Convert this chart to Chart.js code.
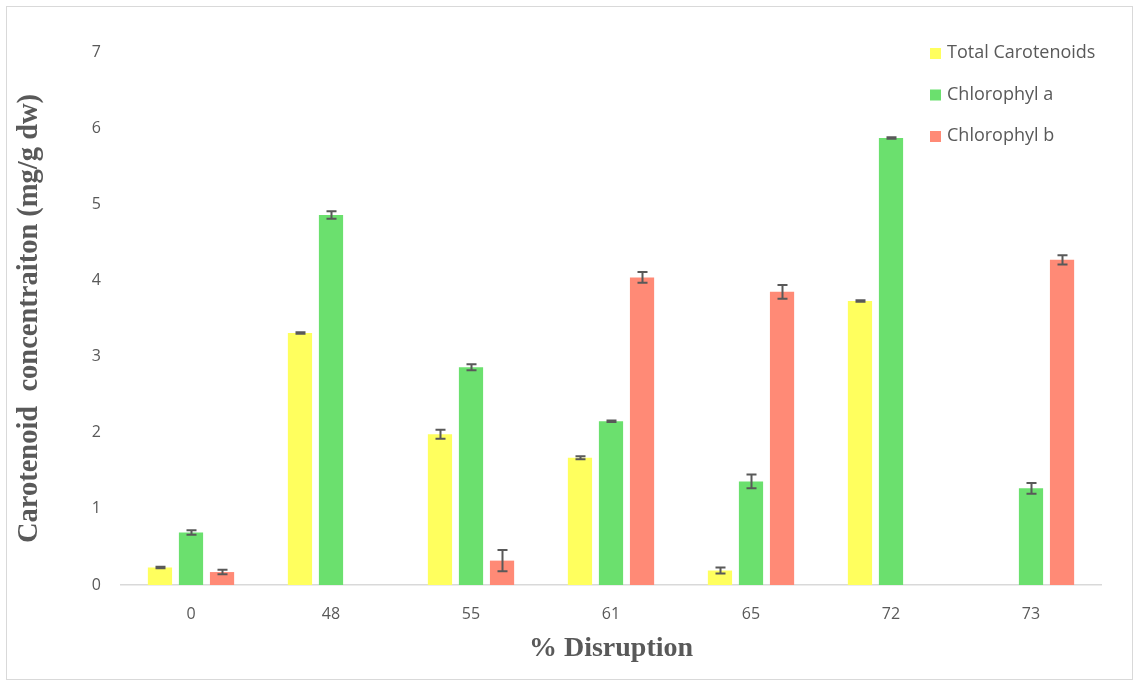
<!DOCTYPE html>
<html>
<head>
<meta charset="utf-8">
<script src="https://cdn.jsdelivr.net/npm/chart.js@4/dist/chart.umd.min.js"></script>
<style>
  html, body { margin: 0; padding: 0; background: #ffffff; }
  #wrap { position: relative; width: 1137px; height: 683px; }
</style>
</head>
<body>
<div id="wrap"><canvas id="chart" width="1137" height="683"></canvas></div>
<script>
// Disruption levels (%)
const categories = ['0', '48', '55', '61', '65', '72', '73'];

// Pigment content (mg/g dw)
const totalCarotenoids = [0.23, 3.31, 1.98, 1.67, 0.19, 3.73, null];
const chlorophyllA     = [0.69, 4.86, 2.86, 2.15, 1.36, 5.87, 1.27];
const chlorophyllB     = [0.17, null, 0.32, 4.04, 3.85, null, 4.27];

// Standard deviations
const totalCarotenoidsErr = [0.01, 0.01, 0.06, 0.02, 0.04, 0.01, null];
const chlorophyllAErr     = [0.03, 0.05, 0.04, 0.01, 0.09, 0.01, 0.07];
const chlorophyllBErr     = [0.03, null, 0.14, 0.07, 0.09, null, 0.06];

const yTicks = [0, 1, 2, 3, 4, 5, 6, 7];

const TEXT_GREY = '#595959';
const SANS = '"Open Sans", "Liberation Sans", sans-serif';
const SERIF = '"Liberation Serif", "Times New Roman", serif';

// Vertical error bars with caps, one per bar
const errorBars = {
  id: 'errorBars',
  afterDatasetsDraw(chart) {
    const ctx = chart.ctx;
    const y = chart.scales.y;
    ctx.save();
    ctx.strokeStyle = TEXT_GREY;
    ctx.lineWidth = 2;
    chart.data.datasets.forEach((ds, i) => {
      const meta = chart.getDatasetMeta(i);
      meta.data.forEach((bar, j) => {
        const v = ds.data[j];
        const e = ds.errors[j];
        if (v == null || e == null) return;
        const top = y.getPixelForValue(v + e);
        const bot = y.getPixelForValue(v - e);
        const x = Math.round(bar.x) + 0.5;
        const half = 5;
        ctx.beginPath();
        ctx.moveTo(x, top); ctx.lineTo(x, bot);
        ctx.moveTo(x - half, top); ctx.lineTo(x + half, top);
        ctx.moveTo(x - half, bot); ctx.lineTo(x + half, bot);
        ctx.stroke();
      });
    });
    ctx.restore();
  }
};

// Legend stacked in the upper right of the plot
const cornerLegend = {
  id: 'cornerLegend',
  afterDraw(chart) {
    const ctx = chart.ctx;
    ctx.save();
    ctx.font = '18px ' + SANS;
    ctx.textBaseline = 'middle';
    ctx.textAlign = 'left';
    chart.data.datasets.forEach((ds, i) => {
      const cy = 53 + i * 41.5;
      ctx.fillStyle = ds.backgroundColor;
      ctx.fillRect(930, cy - 5, 11, 11);
      ctx.fillStyle = TEXT_GREY;
      ctx.fillText(ds.label, 947, cy);
    });
    ctx.restore();
  }
};

// Thin frame around the whole figure
const frame = {
  id: 'frame',
  beforeDraw(chart) {
    const ctx = chart.ctx;
    ctx.save();
    ctx.fillStyle = '#ffffff';
    ctx.fillRect(0, 0, chart.width, chart.height);
    ctx.strokeStyle = '#d9d9d9';
    ctx.lineWidth = 1;
    ctx.strokeRect(6.5, 6.5, 1126, 673);
    ctx.restore();
  }
};

new Chart(document.getElementById('chart'), {
  type: 'bar',
  data: {
    labels: categories,
    datasets: [
      { label: 'Total Carotenoids', data: totalCarotenoids, errors: totalCarotenoidsErr, backgroundColor: '#ffff5e' },
      { label: 'Chlorophyl a',      data: chlorophyllA,     errors: chlorophyllAErr,     backgroundColor: '#6be06e' },
      { label: 'Chlorophyl b',      data: chlorophyllB,     errors: chlorophyllBErr,     backgroundColor: '#ff8a76' }
    ]
  },
  options: {
    responsive: false,
    animation: false,
    devicePixelRatio: 1,
    layout: { padding: { left: 0, right: 36, top: 52, bottom: 0 } },
    datasets: { bar: { categoryPercentage: 0.665, barPercentage: 0.78, grouped: true } },
    plugins: {
      legend: { display: false },
      tooltip: { enabled: false }
    },
    scales: {
      x: {
        grid: { display: false, drawTicks: false },
        border: { display: true, color: '#d9d9d9', width: 1.5 },
        ticks: { color: TEXT_GREY, font: { family: SANS, size: 16 }, padding: 20 },
        title: {
          display: true, text: '% Disruption', color: TEXT_GREY,
          font: { family: SERIF, size: 28, weight: 'bold' },
          padding: { top: 0, bottom: 17 }
        },
        afterFit(scale) { scale.height = 98; }
      },
      y: {
        min: 0, max: 7,
        afterBuildTicks(scale) { scale.ticks = yTicks.map(v => ({ value: v })); },
        grid: { display: false, drawTicks: false },
        border: { display: false },
        ticks: { color: TEXT_GREY, font: { family: SANS, size: 16 }, padding: 20 },
        title: {
          display: true, text: 'Carotenoid  concentraiton (mg/g dw)', color: TEXT_GREY,
          font: { family: SERIF, size: 28.5, weight: 'bold' },
          padding: { top: 13, bottom: 0 }
        },
        afterFit(scale) { scale.width = 121; }
      }
    }
  },
  plugins: [frame, errorBars, cornerLegend]
});
</script>
</body>
</html>
